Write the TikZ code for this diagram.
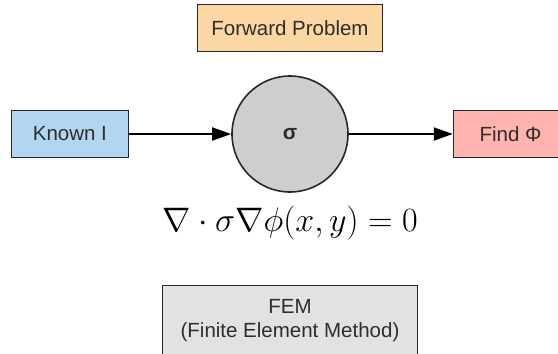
\RequirePackage{fix-cm}
\documentclass[tikz,border=0pt]{standalone}
\usepackage[no-math]{fontspec}
\setmainfont{Liberation Sans}
\usepackage{xcolor}
\usepackage{tikz}
\usetikzlibrary{positioning,arrows.meta}
\definecolor{FwdC}{RGB}{253,215,163}
\definecolor{InC}{RGB}{178,214,240}
\definecolor{OutC}{RGB}{255,179,174}
\definecolor{SigC}{RGB}{206,206,206}
\definecolor{FemC}{RGB}{226,226,226}
\definecolor{EdgeC}{RGB}{40,40,40}
\definecolor{TextC}{RGB}{45,45,45}

\begin{document}
\begin{tikzpicture}[
  box/.style={draw=EdgeC, line width=1.6pt, minimum height=47pt, inner sep=0pt, align=center, text=TextC, font=\fontsize{20.5}{24}\selectfont},
  arr/.style={-{Triangle[length=19pt, width=13pt]}, line width=1.8pt}
]
  \useasboundingbox (-290pt,134pt) rectangle (268pt,-220pt);
  \node[circle, draw=EdgeC, line width=1.6pt, fill=SigC, minimum size=116pt, inner sep=0pt, text=TextC, font=\fontsize{21}{24}\selectfont\bfseries] (sig) at (0,0) {σ};
  \node[box, fill=InC, minimum width=117pt, left=102pt of sig] (known) {Known I};
  \node[box, fill=OutC, minimum width=114pt, right=104pt of sig] (find) {Find Φ};
  \node[box, fill=FwdC, minimum width=185pt, above=23pt of sig] (fwd) {Forward Problem};
  \node[inner sep=0pt, font=\fontsize{34}{40}\selectfont, anchor=base] (eq) at (0,-97.7pt) {$\nabla\cdot\sigma\nabla\phi(x,y)=0$};
  \node[box, fill=FemC, minimum width=255pt, minimum height=69pt, below=92pt of sig] (fem) {FEM\\(Finite Element Method)};
  \draw[arr] (known) -- (sig);
  \draw[arr] (sig) -- (find);
\end{tikzpicture}
\end{document}
